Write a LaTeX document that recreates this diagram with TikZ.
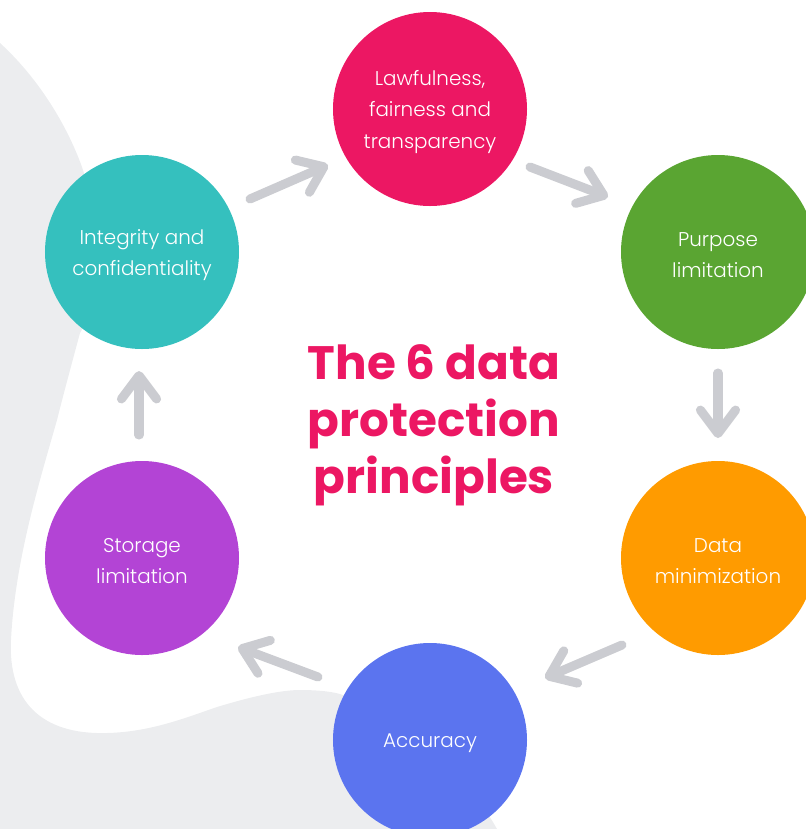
\documentclass[tikz,border=0pt]{standalone}
\usepackage{fontspec}
\setmainfont{Poppins}
\newfontfamily\labelfont{Poppins}[UprightFont=* Light]
\usetikzlibrary{arrows.meta,calc}

\definecolor{bggrey}{HTML}{ECEDEF}
\definecolor{arrowgrey}{HTML}{CBCCD1}
\definecolor{pinkred}{HTML}{EC1763}
\definecolor{tealc}{HTML}{35C0BE}
\definecolor{greenc}{HTML}{5AA532}
\definecolor{orangec}{HTML}{FF9B00}
\definecolor{purplec}{HTML}{B344D5}
\definecolor{bluec}{HTML}{5B74EF}

\begin{document}
\begin{tikzpicture}[x=0.03cm,y=-0.03cm,
  principle/.style={circle, minimum size=5.82cm, inner sep=0pt, text=white,
    align=center, font=\labelfont\fontsize{17}{26.8}\selectfont},
  words/.style={yshift=-2.5pt},
  flow/.style={draw=arrowgrey, line width=7.7pt, line cap=round,
    -{Straight Barb[length=20pt, width=30pt, round]}},
  heading/.style={text=pinkred, align=center,
    font=\bfseries\fontsize{40}{48.5}\selectfont}]

\useasboundingbox (0,0) rectangle (806,829);
\clip (0,0) rectangle (806,829);

% soft grey backdrop on the left and bottom
\fill[bggrey] (0,43) .. controls (35,75) and (65,120) .. (82,167)
  .. controls (100,220) and (100,300) .. (80,333)
  .. controls (70,370) and (62,400) .. (57,420)
  .. controls (40,480) and (15,560) .. (11,640)
  .. controls (8,700) and (40,735) .. (107,733)
  .. controls (150,732) and (185,718) .. (217,707)
  .. controls (250,697) and (280,690) .. (300,690)
  .. controls (320,690) and (335,692) .. (343,695)
  .. controls (400,710) and (470,780) .. (497,829)
  -- (0,829) -- cycle;

% the six principles
\node[principle, fill=pinkred]  (law) at (430,109) {};
\node[principle, fill=greenc]   (pur) at (718,252) {};
\node[principle, fill=orangec]  (min) at (718,558) {};
\node[principle, fill=bluec]    (acc) at (430,740) {};
\node[principle, fill=purplec]  (sto) at (142,558) {};
\node[principle, fill=tealc]    (int) at (142,252) {};

% their names
\node[principle, words] (lawtext) at (law) {Lawfulness,\\fairness and\\transparency};
\node[principle, words] (purtext) at (pur) {Purpose\\limitation};
\node[principle, words] (mintext) at (min) {Data\\minimization};
\node[principle, words] (acctext) at (acc) {Accuracy};
\node[principle, words] (stotext) at (sto) {Storage\\limitation};
\node[principle, words] (inttext) at (int) {Integrity and\\confidentiality};

% title in the middle
\node[heading] (title) at (434,425) {The 6 data\\protection\\principles};

% cycle arrows
\draw[flow] ($(int)+(108,-53)$) -- ($(law)+(-102,56)$);
\draw[flow] ($(law)+(100,58)$) -- ($(pur)+(-110,-55)$);
\draw[flow] ($(pur)+(0,121)$) -- ($(min)+(0,-120)$);
\draw[flow] ($(min)+(-96,87)$) -- ($(acc)+(115,-62)$);
\draw[flow] ($(acc)+(-112,-63)$) -- ($(sto)+(96,89)$);
\draw[flow] ($(sto)+(-3,-123)$) -- ($(int)+(-3,119)$);

\end{tikzpicture}
\end{document}
